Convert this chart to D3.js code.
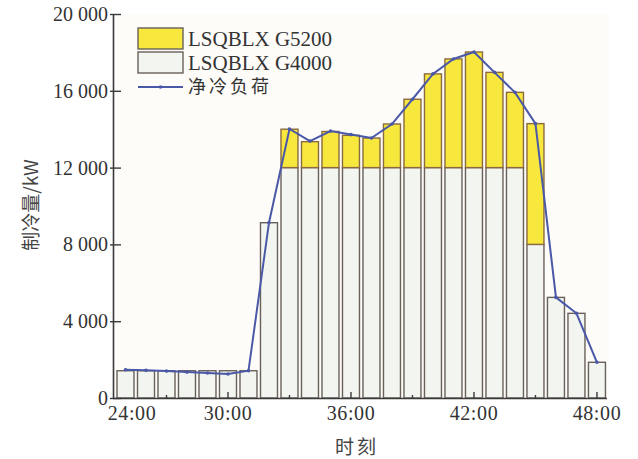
<!DOCTYPE html>
<html>
<head>
<meta charset="utf-8">
<script src="https://cdn.jsdelivr.net/npm/d3@7/dist/d3.min.js"></script>
<style>
  html, body { margin: 0; padding: 0; background: #ffffff; }
  svg { display: block; }
</style>
</head>
<body>
<svg id="chart" width="638" height="459"></svg>
<script>
// ---- data ----
const hours = [25, 26, 27, 28, 29, 30, 31, 32, 33, 34, 35, 36, 37, 38, 39, 40, 41, 42, 43, 44, 45, 46, 47, 48];
const g4000 = [1420, 1420, 1420, 1420, 1420, 1420, 1420, 9130, 12000, 12000, 12000, 12000, 12000, 12000, 12000, 12000, 12000, 12000, 12000, 12000, 8000, 5240, 4410, 1860];
const g5200 = [0, 0, 0, 0, 0, 0, 0, 0, 2000, 1350, 1880, 1680, 1540, 2270, 3560, 4880, 5660, 6020, 4960, 3920, 6290, 0, 0, 0];
const netLoad = [1470, 1440, 1400, 1350, 1300, 1250, 1420, 9130, 14010, 13380, 13900, 13720, 13540, 14270, 15560, 16880, 17660, 18020, 16960, 15920, 14290, 5240, 4410, 1860];
const yTicks = [0, 4000, 8000, 12000, 16000, 20000];
const xMajorTicks = [24, 30, 36, 42, 48];
const xMinorTicks = [27, 33, 39, 45];
const seriesNames = ["LSQBLX G5200", "LSQBLX G4000", "净冷负荷"];
const xTitle = "时刻";
const yTitle = "制冷量/kW";

// ---- layout ----
const svg = d3.select("#chart");
const serif = "'Liberation Serif', 'Times New Roman', serif";
const cjk = "'Noto Sans CJK SC', sans-serif";
const axisColor = "#3a3a3a";
const textColor = "#333";

const x = d3.scaleLinear().domain([24.39, 48.49]).range([113, 607]);
const y = d3.scaleLinear().domain([0, 20000]).range([398, 14]);
const barW = 17;

// plot background
svg.append("rect")
  .attr("x", x.range()[0]).attr("y", y(20000))
  .attr("width", 609 - x.range()[0]).attr("height", y(0) - y(20000))
  .attr("fill", "#fdfcf8");

// bars: G4000 (bottom)
const bars = svg.append("g");
bars.selectAll("rect.g4")
  .data(hours.map((h, i) => ({ h, v: g4000[i] })))
  .join("rect")
  .attr("class", "g4")
  .attr("x", d => x(d.h) - barW / 2)
  .attr("y", d => y(d.v))
  .attr("width", barW)
  .attr("height", d => y(0) - y(d.v))
  .attr("fill", "#f2f5f0")
  .attr("stroke", "#6a605a")
  .attr("stroke-width", 1.4);

// bars: G5200 stacked on top
bars.selectAll("rect.g5")
  .data(hours.map((h, i) => ({ h, b: g4000[i], v: g5200[i] })).filter(d => d.v > 0))
  .join("rect")
  .attr("class", "g5")
  .attr("x", d => x(d.h) - barW / 2)
  .attr("y", d => y(d.b + d.v))
  .attr("width", barW)
  .attr("height", d => y(d.b) - y(d.b + d.v))
  .attr("fill", "#f8e83e")
  .attr("stroke", "#8a6a40")
  .attr("stroke-width", 1.4);

// net load line
const lineColor = "#4a58a8";
const line = d3.line().x((d, i) => x(hours[i])).y(d => y(d));
svg.append("path")
  .datum(netLoad)
  .attr("d", line)
  .attr("fill", "none")
  .attr("stroke", lineColor)
  .attr("stroke-width", 2);
svg.append("g").selectAll("circle")
  .data(netLoad)
  .join("circle")
  .attr("cx", (d, i) => x(hours[i]))
  .attr("cy", d => y(d))
  .attr("r", 1.8)
  .attr("fill", lineColor);

// axes
const ax = svg.append("g");
ax.append("line")
  .attr("x1", x.range()[0] + 0.5).attr("x2", x.range()[0] + 0.5)
  .attr("y1", y(20000)).attr("y2", y(0) + 1)
  .attr("stroke", axisColor).attr("stroke-width", 1.6);
ax.append("line")
  .attr("x1", x.range()[0]).attr("x2", x.range()[1])
  .attr("y1", y(0) + 0.5).attr("y2", y(0) + 0.5)
  .attr("stroke", axisColor).attr("stroke-width", 1.6);

// y ticks
const fmt = v => d3.format(",")(v).replace(/,/g, "\u2009");
ax.selectAll("line.yt")
  .data(yTicks)
  .join("line")
  .attr("class", "yt")
  .attr("x1", x.range()[0] - 3).attr("x2", x.range()[0] + 8)
  .attr("y1", d => y(d) + 0.5).attr("y2", d => y(d) + 0.5)
  .attr("stroke", axisColor).attr("stroke-width", 1.4);
ax.selectAll("text.yl")
  .data(yTicks)
  .join("text")
  .attr("class", "yl")
  .attr("x", x.range()[0] - 5)
  .attr("y", d => y(d))
  .attr("dy", "0.35em")
  .attr("text-anchor", "end")
  .attr("font-family", serif)
  .attr("font-size", 20)
  .attr("fill", textColor)
  .text(d => d === 0 ? "0" : fmt(d).replace("\u2009", " "));

// x ticks
ax.selectAll("line.xM")
  .data(xMajorTicks.filter(t => x(t) > x.range()[0]))
  .join("line")
  .attr("class", "xM")
  .attr("x1", d => x(d)).attr("x2", d => x(d))
  .attr("y1", y(0)).attr("y2", y(0) - 6)
  .attr("stroke", axisColor).attr("stroke-width", 1.4);
ax.selectAll("line.xm")
  .data(xMinorTicks)
  .join("line")
  .attr("class", "xm")
  .attr("x1", d => x(d)).attr("x2", d => x(d))
  .attr("y1", y(0)).attr("y2", y(0) - 3)
  .attr("stroke", axisColor).attr("stroke-width", 1.4);
ax.selectAll("text.xl")
  .data(xMajorTicks)
  .join("text")
  .attr("class", "xl")
  .attr("x", d => Math.max(x(d), x.range()[0] + 19))
  .attr("y", 420)
  .attr("text-anchor", "middle")
  .attr("font-family", serif)
  .attr("font-size", 20)
  .attr("letter-spacing", "0.6px")
  .attr("fill", textColor)
  .text(d => d + ":00");

// axis titles
svg.append("text")
  .attr("x", 357).attr("y", 454)
  .attr("text-anchor", "middle")
  .attr("font-family", cjk)
  .attr("font-size", 19)
  .attr("letter-spacing", "3px")
  .attr("fill", "#444")
  .text(xTitle);
svg.append("text")
  .attr("transform", "translate(38,205) rotate(-90)")
  .attr("text-anchor", "middle")
  .attr("font-family", cjk)
  .attr("font-size", 19)
  .attr("fill", "#444")
  .text(yTitle);

// legend
const lg = svg.append("g");
const lx = 138, sw = 45, sh = 21;
lg.append("rect").attr("x", lx).attr("y", 28).attr("width", sw).attr("height", sh)
  .attr("fill", "#f8e83e").attr("stroke", "#6a605a").attr("stroke-width", 1.4);
lg.append("rect").attr("x", lx).attr("y", 52).attr("width", sw).attr("height", sh)
  .attr("fill", "#f2f5f0").attr("stroke", "#6a605a").attr("stroke-width", 1.4);
lg.append("line").attr("x1", lx).attr("x2", lx + sw).attr("y1", 87).attr("y2", 87)
  .attr("stroke", lineColor).attr("stroke-width", 2);
lg.append("circle").attr("cx", lx + sw / 2).attr("cy", 87).attr("r", 1.8).attr("fill", lineColor);
const legY = [38.5, 62.5, 87];
lg.selectAll("text")
  .data(seriesNames)
  .join("text")
  .attr("x", 188)
  .attr("y", (d, i) => legY[i])
  .attr("dy", "0.35em")
  .attr("font-family", (d, i) => i < 2 ? serif : cjk)
  .attr("font-size", (d, i) => i < 2 ? 21 : 18)
  .attr("letter-spacing", (d, i) => i < 2 ? "0px" : "3px")
  .attr("fill", textColor)
  .text(d => d);
</script>
</body>
</html>
